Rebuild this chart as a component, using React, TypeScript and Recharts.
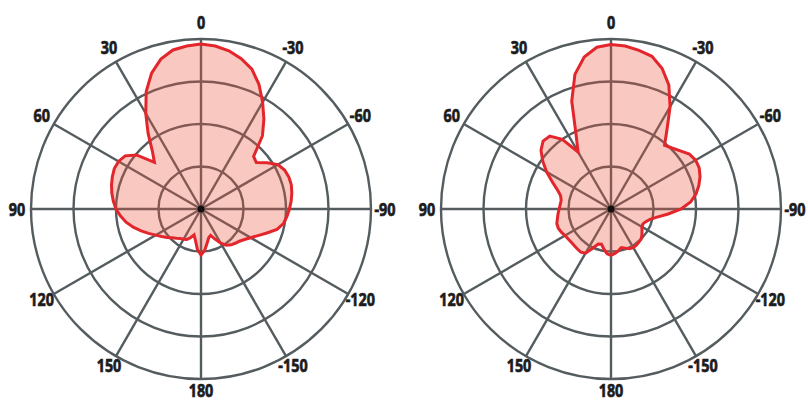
import React from 'react';
import { RadarChart, Radar, PolarGrid, PolarAngleAxis, PolarRadiusAxis } from 'recharts';

// angle in degrees, counter-clockwise from the top (0 = boresight)
const angles = Array.from({ length: 72 }, (_, i) => i * 5);

const angleTicks = [0, 30, 60, 90, 120, 150, 180, 210, 240, 270, 300, 330];

// relative gain, one value every 5 degrees (rings at 10, 20, 30, 40)
const leftGain = [
  38.8, 38.5, 38, 36.5, 34, 30.5, 26, 21.7, 17.8, 15.5, 19.8, 21.8,
  22.4, 22.5, 22.2, 21.8, 21.3, 20.7, 20, 19, 17.9, 16.5, 15, 13.6,
  12.3, 11.3, 10.4, 9.6, 9, 8.5, 8.2, 7.9, 7.2, 6.3, 7.5, 9.6,
  10.8, 9.8, 8.2, 7, 6.6, 7.8, 9.3, 10.4, 11, 11.4, 11.8, 12.5,
  13.5, 14.8, 16.5, 18.5, 19.7, 20.3, 20.8, 21.3, 21.7, 22, 22, 21.7,
  20.9, 19, 17, 17.5, 22.5, 25.8, 29, 32.3, 35, 36.6, 37.8, 38.5,
];

const rightGain = [
  38.7, 38.2, 36.3, 32.8, 27, 19.5, 15.5, 20, 22.4, 22.6, 21.5, 19.6,
  17.5, 15.3, 13.5, 12.3, 11.9, 12, 12.2, 12.5, 12.8, 13.2, 13.2, 12.9,
  12.5, 12.3, 12.2, 12.2, 12.3, 12.4, 12, 10.2, 8.8, 8.6, 9.6, 10.6,
  10.9, 10.5, 10, 9.4, 9.8, 10.3, 10.5, 10.4, 10.2, 10, 9.5, 8.9,
  8.4, 8.3, 8.7, 9.5, 11, 13.5, 16.5, 18.8, 20.3, 21.4, 22.3, 22.9,
  23, 22.5, 21.3, 20.3, 19.6, 23, 27.8, 32.2, 35.2, 37.2, 37.9, 38.5,
];

const leftData = angles.map((angle, i) => ({ angle, gain: leftGain[i] }));
const rightData = angles.map((angle, i) => ({ angle, gain: rightGain[i] }));

const AngleTick = (props: any) => {
  const { x, y, payload } = props;
  const v = payload.value;
  const label = v > 180 ? v - 360 : v;
  // top and bottom labels sit a little higher in the original
  const lift = -3 * Math.abs(Math.cos((v * Math.PI) / 180));
  // narrow the glyphs, the original uses a condensed face
  return (
    <g transform={`translate(${x},${y + lift}) scale(0.8,1)`}>
      <text
        x={0}
        y={0}
        textAnchor="middle"
        dominantBaseline="central"
        fontFamily="'Noto Sans', 'DejaVu Sans', sans-serif"
        fontWeight={700}
        fontSize={18}
        fill="#1c1c1c"
        stroke="#1c1c1c"
        strokeWidth={0.7}
      >
        {label}
      </text>
    </g>
  );
};

// black hub drawn at the radius-axis zero tick, which sits on the centre
const HubTick = (props: any) => {
  const { x, y, payload } = props;
  if (payload.value !== 0) return null;
  return <circle cx={x} cy={y} r={3.5} fill="#111" />;
};

function Pattern({ data, cx }: { data: { angle: number; gain: number }[]; cx: number }) {
  return (
    <RadarChart
      width={404}
      height={401}
      data={data}
      cx={cx}
      cy={209}
      outerRadius={170}
      startAngle={90}
      endAngle={450}
      margin={{ top: 0, right: 0, bottom: 0, left: 0 }}
    >
      <PolarGrid gridType="circle" stroke="#545c5f" strokeWidth={2.4} />
      <PolarAngleAxis
        dataKey="angle"
        type="number"
        domain={[0, 360]}
        ticks={angleTicks}
        tickSize={14}
        tickLine={false}
        axisLine={false}
        tick={<AngleTick />}
      />
      <Radar
        dataKey="gain"
        stroke="#e3262b"
        strokeWidth={3}
        fill="#e8543f"
        fillOpacity={0.32}
        isAnimationActive={false}
      />
      <PolarRadiusAxis domain={[0, 40]} tickCount={5} tick={<HubTick />} axisLine={false} />
    </RadarChart>
  );
}

export default function App() {
  return (
    <div style={{ position: 'absolute', left: 0, top: 0, width: 808, height: 401, display: 'flex', background: '#fff' }}>
      <Pattern data={leftData} cx={201} />
      <Pattern data={rightData} cx={207} />
    </div>
  );
}
